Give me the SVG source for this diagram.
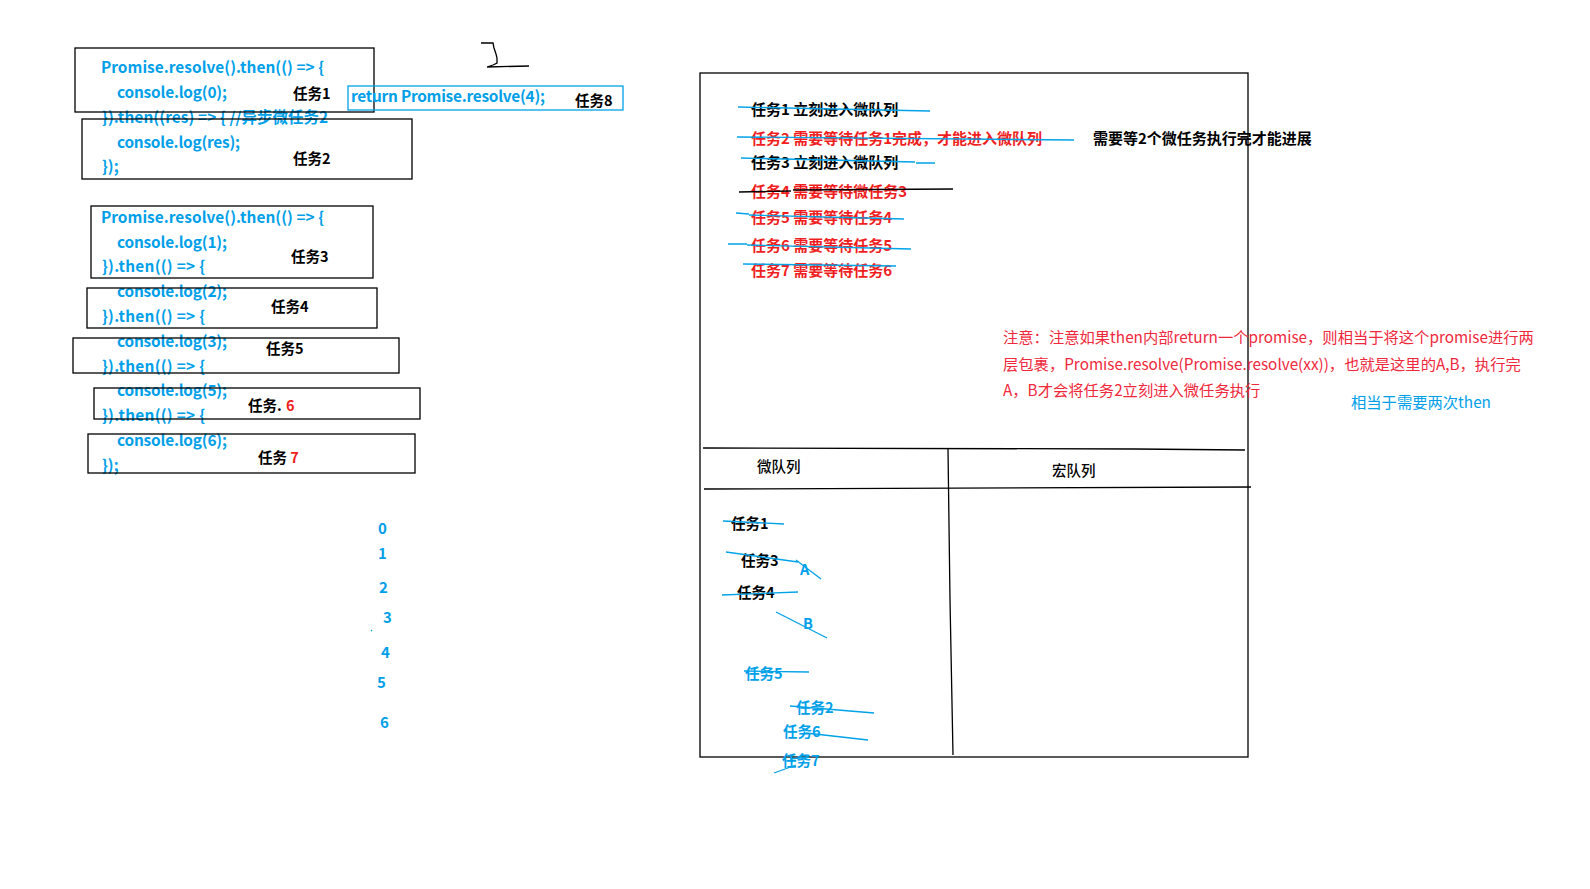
<svg xmlns="http://www.w3.org/2000/svg" width="1590" height="889" viewBox="0 0 1590 889">
<style>
text{font-family:"Noto Sans CJK SC","Noto Sans",sans-serif}
.code{font-size:15.4px;font-weight:700;fill:#00a0e9}
.lbl{font-size:14.5px;font-weight:700;fill:#000}
.box{fill:none;stroke:#000;stroke-width:1.3}
.bl{fill:none;stroke:#00a2e8;stroke-width:1.3}
.bk{fill:none;stroke:#000;stroke-width:1.3}
.rd{fill:#f01e1e}
.task{font-size:15px;font-weight:700}
.note{font-size:15.3px;fill:#f0283c}
.q{font-size:14.5px;font-weight:700}
.qb{fill:#00a0e9}
.num{font-size:15px;font-weight:700;fill:#00a0e9}
</style>
<rect width="1590" height="889" fill="#fff"/>

<g id="code1">
<text class="code" x="101" y="73" textLength="223">Promise.resolve().then(() =&gt; {</text>
<text class="code" x="117" y="98" textLength="110">console.log(0);</text>
<text class="code" x="102" y="123" textLength="226">}).then((res) =&gt; { //异步微任务2</text>
<text class="code" x="117" y="148" textLength="123">console.log(res);</text>
<text class="code" x="102" y="172">});</text>
</g>

<g id="code2">
<text class="code" x="101" y="223" textLength="223">Promise.resolve().then(() =&gt; {</text>
<text class="code" x="117" y="248" textLength="110">console.log(1);</text>
<text class="code" x="102" y="272" textLength="103">}).then(() =&gt; {</text>
<text class="code" x="117" y="297" textLength="110">console.log(2);</text>
<text class="code" x="102" y="322" textLength="103">}).then(() =&gt; {</text>
<text class="code" x="117" y="347" textLength="110">console.log(3);</text>
<text class="code" x="102" y="372" textLength="103">}).then(() =&gt; {</text>
<text class="code" x="117" y="396" textLength="110">console.log(5);</text>
<text class="code" x="102" y="421" textLength="103">}).then(() =&gt; {</text>
<text class="code" x="117" y="446" textLength="110">console.log(6);</text>
<text class="code" x="102" y="471">});</text>
</g>

<g id="task1"><rect class="box" x="75" y="48" width="299" height="64"/><text class="lbl" x="293" y="99">任务1</text></g>
<g id="task2"><rect class="box" x="82" y="119" width="330" height="60"/><text class="lbl" x="293" y="164">任务2</text></g>
<g id="task3"><rect class="box" x="91" y="206" width="282" height="72"/><text class="lbl" x="291" y="262">任务3</text></g>
<g id="task4"><rect class="box" x="87" y="288" width="290" height="40"/><text class="lbl" x="271" y="312">任务4</text></g>
<g id="task5"><rect class="box" x="73" y="338" width="326" height="35"/><text class="lbl" x="266" y="354">任务5</text></g>
<g id="task6"><rect class="box" x="94" y="388" width="326" height="31"/><text class="lbl" x="248" y="411">任务. <tspan class="rd" dx="1">6</tspan></text></g>
<g id="task7"><rect class="box" x="88" y="434" width="327" height="39"/><text class="lbl" x="258" y="463">任务 <tspan class="rd">7</tspan></text></g>

<g id="task8">
<rect class="bl" x="348" y="86" width="275" height="24"/>
<text class="code" x="351" y="102" textLength="194">return Promise.resolve(4);</text>
<text class="lbl" x="575" y="106">任务8</text>
</g>

<g id="bracket">
<path class="bk" d="M481,43 L493,43 L494,48 L496,54 L497,58 L497,63 L493,65 L487,67 M487,67 L529,66"/>
</g>

<g id="numbers">
<text class="num" x="378" y="534">0</text>
<text class="num" x="378" y="559">1</text>
<text class="num" x="379" y="593">2</text>
<text class="num" x="383" y="623">3</text>
<text class="num" x="381" y="658">4</text>
<text class="num" x="377" y="688">5</text>
<text class="num" x="380" y="728">6</text>
<path class="bl" d="M371,631 L372,630" stroke-width="1"/>
</g>

<g id="panel">
<rect class="box" x="700" y="73" width="548" height="684"/>
</g>

<g id="tasklist">
<text class="task" x="751" y="115">任务1 立刻进入微队列</text>
<text class="task rd" x="751" y="143.5">任务2 需要等待任务1完成，才能进入微队列</text>
<text class="task" x="1093" y="143.5">需要等2个微任务执行完才能进展</text>
<text class="task" x="751" y="168">任务3 立刻进入微队列</text>
<text class="task rd" x="751" y="197">任务4 需要等待微任务3</text>
<text class="task rd" x="751" y="222.5">任务5 需要等待任务4</text>
<text class="task rd" x="751" y="251">任务6 需要等待任务5</text>
<text class="task rd" x="751" y="276">任务7 需要等待任务6</text>
</g>

<g id="note">
<text class="note" x="1003" y="343">注意：注意如果then内部return一个promise，则相当于将这个promise进行两</text>
<text class="note" x="1003" y="369.5">层包裹，Promise.resolve(Promise.resolve(xx))，也就是这里的A,B，执行完</text>
<text class="note" x="1003" y="395.5">A，B才会将任务2立刻进入微任务执行</text>
<text class="note" x="1351" y="408" style="fill:#00a0e9">相当于需要两次then</text>
</g>

<g id="queues">
<path class="bk" d="M703,448 L1135,449 L1245,450"/>
<path class="bk" d="M704,489 L1251,487"/>
<path class="bk" d="M948,449 L950,600 L953,755"/>
<text class="q" x="757" y="472" style="font-weight:500">微队列</text>
<text class="q" x="1052" y="476" style="font-weight:500">宏队列</text>
<text class="q" x="731" y="529">任务1</text>
<text class="q" x="741" y="566">任务3</text>
<text class="q qb" x="800" y="575">A</text>
<text class="q" x="737" y="598">任务4</text>
<text class="q qb" x="803" y="629">B</text>
<text class="q qb" x="745" y="679">任务5</text>
<text class="q qb" x="796" y="713">任务2</text>
<text class="q qb" x="783" y="737">任务6</text>
<text class="q qb" x="782" y="766">任务7</text>
</g>

<g id="connectors">
<path class="bl" d="M738,107 L930,111"/>
<path class="bl" d="M737,137 L1074,140"/>
<path class="bl" d="M741,158 L915,162 M916,163 L935,163"/>
<path class="bk" d="M739,192 L791,191 M793,190 L953,189"/>
<path class="bl" d="M736,213 L749,214 M749,215 L904,219"/>
<path class="bl" d="M728,244 L747,244 M747,245 L911,249"/>
<path class="bl" d="M743,264 L896,266"/>
<path class="bl" d="M723,521 L784,524"/>
<path class="bl" d="M726,552 L798,562"/>
<path class="bl" d="M796,560 L821,579"/>
<path class="bl" d="M722,595 L798,592"/>
<path class="bl" d="M776,612 L827,638"/>
<path class="bl" d="M744,671 L809,672"/>
<path class="bl" d="M790,706 L874,713"/>
<path class="bl" d="M806,733 L868,740"/>
<path class="bl" d="M774,773 L796,765 M790,759 L809,757"/>
</g>
</svg>
